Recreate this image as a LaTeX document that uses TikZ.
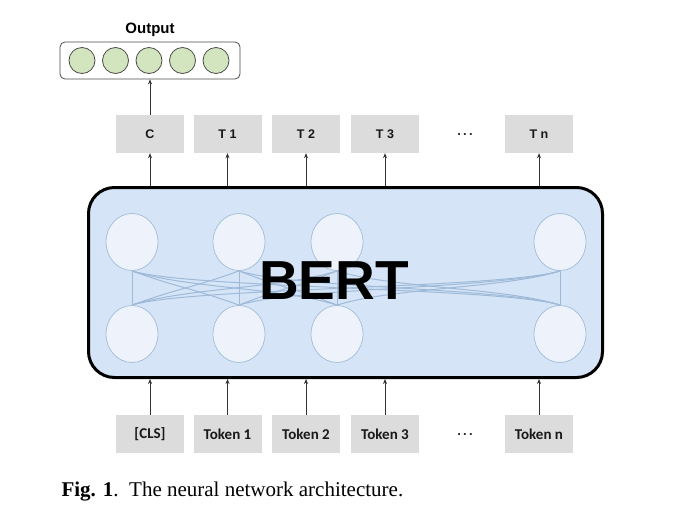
\documentclass[tikz,border=0pt]{standalone}
\usepackage{fontspec}
\setmainfont{Liberation Serif}
\setsansfont{Liberation Sans}
\newfontfamily\tokfont{Carlito}
\usetikzlibrary{shapes.geometric,arrows.meta,calc}
\definecolor{bertfill}{HTML}{D5E5F7}
\definecolor{cellfill}{HTML}{EEF3FB}
\definecolor{celledge}{HTML}{A9BFDA}
\definecolor{linkcol}{HTML}{9FB9D8}
\definecolor{boxgray}{HTML}{DCDCDC}
\definecolor{outgreen}{HTML}{D3E5BF}
\tikzset{
  graybox/.style={fill=boxgray, minimum width=68pt, minimum height=38pt, inner sep=0pt, text=black!90},
  topbox/.style={graybox, font=\sffamily\bfseries\fontsize{12.5}{15}\selectfont},
  tokbox/.style={graybox, font=\tokfont\bfseries\fontsize{15}{17}\selectfont},
  cell/.style={ellipse, draw=celledge, line width=0.8pt, fill=cellfill, minimum width=52pt, minimum height=57pt, inner sep=0pt},
  outcell/.style={circle, draw=black!70, line width=0.8pt, fill=outgreen, minimum size=26pt, inner sep=0pt},
  arr/.style={-{Stealth[length=5pt,width=4pt]}, line width=0.7pt, draw=black!80},
  link/.style={draw=linkcol, line width=1pt},
  dots/.style={inner sep=0pt, text=black!85, font=\sffamily\bfseries\fontsize{13}{15}\selectfont}
}
\begin{document}
\begin{tikzpicture}[x=1pt,y=-1pt]
\useasboundingbox[fill=white] (0,0) rectangle (680,520);
% Output
\node[font=\sffamily\bfseries\fontsize{15}{17}\selectfont] (outlbl) at (150,30) {Output};
\node[draw=black!70, line width=0.8pt, rounded corners=5pt, minimum width=180pt, minimum height=37pt] (outbox) at (150,60.5) {};
\foreach \i/\x in {1/82,2/115.5,3/149,4/182.5,5/216}{
  \node[outcell] (o\i) at (\x,60.5) {};
}
% BERT box
\node[draw=black, line width=3pt, fill=bertfill, rounded corners=26pt, minimum width=514pt, minimum height=190pt] (bert) at (345.5,282.5) {};
% cells
\foreach \i/\x in {1/132,2/239,3/337,4/560}{
  \node[cell] (u\i) at (\x,242) {};
  \node[cell] (d\i) at (\x,334) {};
}
\foreach \i/\xa in {1/132,2/239,3/337,4/560}{
  \foreach \j/\xb in {1/132,2/239,3/337,4/560}{
    \pgfmathsetmacro\off{ifthenelse(\xb>\xa,1,-1)*min(abs(\xb-\xa)*0.45,55)}
    \draw[link] (u\i.south) .. controls ($(u\i.south)+(\off,17.5)$) and ($(d\j.north)+(-\off,-17.5)$) .. (d\j.north);
  }
}
\node[font=\sffamily\bfseries\fontsize{55}{60}\selectfont] (berttxt) at (334,281) {BERT};
% top boxes
\node[topbox] (tc) at (150,134) {C};
\node[topbox] (t1) at (227.5,134) {T 1};
\node[topbox] (t2) at (306,134) {T 2};
\node[topbox] (t3) at (385,134) {T 3};
\node[dots] (tdots) at (465,135) {.\hspace{2.2pt}.\hspace{2.2pt}.};
\node[topbox] (tn) at (539,134) {T n};
% bottom boxes
\node[tokbox] (bc) at (150,434) {[CLS]};
\node[tokbox] (b1) at (227.5,434) {Token 1};
\node[tokbox] (b2) at (306,434) {Token 2};
\node[tokbox] (b3) at (385,434) {Token 3};
\node[dots] (bdots) at (465,435) {.\hspace{2.2pt}.\hspace{2.2pt}.};
\node[tokbox] (bn) at (539,434) {Token n};
% arrows
\foreach \n in {c,1,2,3,n}{
  \draw[arr] (bert.north -| t\n.south) -- (t\n.south);
  \draw[arr] (b\n.north) -- (bert.south -| b\n.north);
}
\draw[arr] (tc.north) -- (outbox.south -| tc.north);
% caption
\node[anchor=west, font=\fontsize{21}{24}\selectfont] (cap) at (58,492) {\textbf{Fig. 1}.\ \ The neural network architecture.};
\end{tikzpicture}
\end{document}
